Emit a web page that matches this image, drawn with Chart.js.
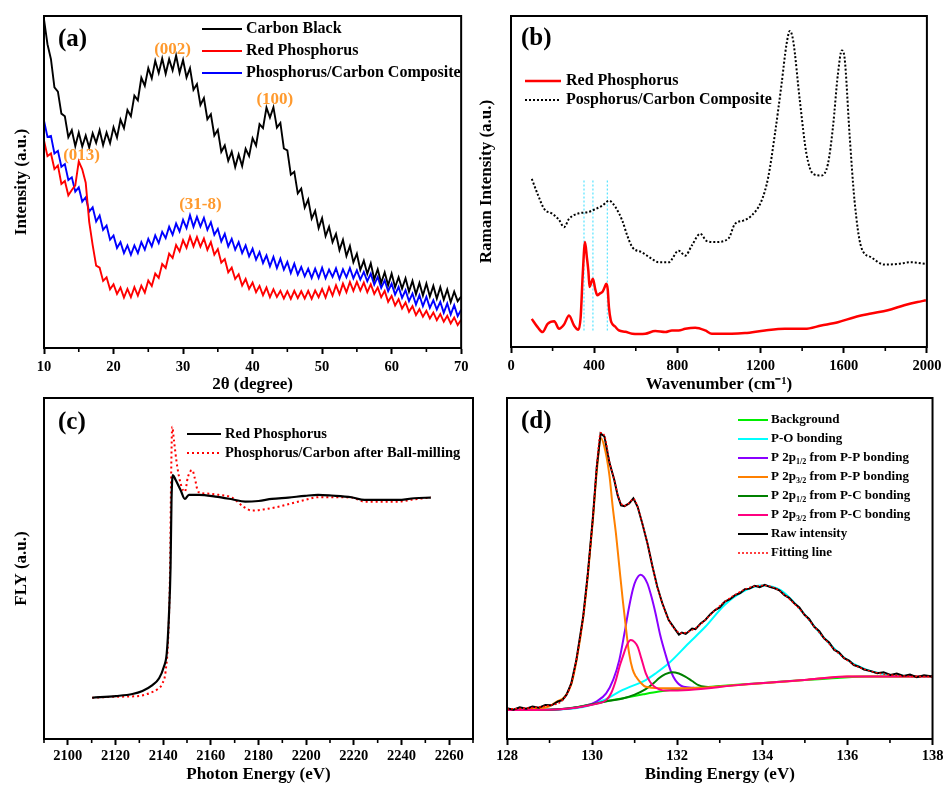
<!DOCTYPE html>
<html>
<head>
<meta charset="utf-8">
<script src="https://cdn.jsdelivr.net/npm/chart.js@4.4.1/dist/chart.umd.min.js"></script>
<style>
  body { margin: 0; background: #fff; }
  #page { position: relative; width: 946px; height: 785px; overflow: hidden; }
  canvas { position: absolute; }
</style>
</head>
<body>
<div id="page">
  <canvas id="graphA" width="473" height="397" style="left:0;top:0"></canvas>
  <canvas id="graphB" width="473" height="397" style="left:473px;top:0"></canvas>
  <canvas id="graphC" width="476" height="388" style="left:0;top:397px"></canvas>
  <canvas id="graphD" width="473" height="388" style="left:473px;top:397px"></canvas>
</div>
<script>
// ---- (a) XRD ----
const angle = [
  10, 10.5, 11, 11.5, 12, 12.5, 13, 13.5, 14, 14.5,
  15, 15.5, 16, 16.5, 17, 17.5, 18, 18.5, 19, 19.5,
  20, 20.5, 21, 21.5, 22, 22.5, 23, 23.5, 24, 24.5,
  25, 25.5, 26, 26.5, 27, 27.5, 28, 28.5, 29, 29.5,
  30, 30.5, 31, 31.5, 32, 32.5, 33, 33.5, 34, 34.5,
  35, 35.5, 36, 36.5, 37, 37.5, 38, 38.5, 39, 39.5,
  40, 40.5, 41, 41.5, 42, 42.5, 43, 43.5, 44, 44.5,
  45, 45.5, 46, 46.5, 47, 47.5, 48, 48.5, 49, 49.5,
  50, 50.5, 51, 51.5, 52, 52.5, 53, 53.5, 54, 54.5,
  55, 55.5, 56, 56.5, 57, 57.5, 58, 58.5, 59, 59.5,
  60, 60.5, 61, 61.5, 62, 62.5, 63, 63.5, 64, 64.5,
  65, 65.5, 66, 66.5, 67, 67.5, 68, 68.5, 69, 69.5,
  70
];
const carbonBlack = [
  99, 91.5, 87, 78.5, 77.2, 70.6, 69.8, 63.5, 65.6, 60.8,
  64.9, 60.7, 64, 60.4, 64.7, 61.8, 65.6, 61.1, 64.9, 61.7,
  66.5, 63.4, 68.8, 66.2, 71.7, 69.8, 76, 74.6, 81.4, 79,
  84.3, 81.2, 86.5, 82.8, 87.2, 82.6, 87, 83.6, 88.1, 82.9,
  86.8, 81.5, 84.3, 77.8, 79.5, 73.2, 75.3, 68.9, 70.4, 64,
  65.7, 59.1, 61, 56.4, 59.1, 54.5, 58.3, 54.8, 60, 57.8,
  63.2, 61, 67.4, 66.2, 72.4, 69.4, 72.5, 66.4, 67.8, 60.1,
  59.5, 52.2, 53.1, 46.6, 48, 42.3, 44.7, 39, 41.3, 36.1,
  39.1, 33.7, 36.5, 31.9, 34.4, 29.5, 32.6, 27.7, 30.7, 25.8,
  28.4, 23.5, 26.3, 22.4, 25.5, 20.7, 23.7, 19.6, 22.8, 18.9,
  22.4, 18.3, 21.3, 17.9, 21, 17, 20.2, 16.2, 19.6, 15.8,
  19.4, 15.5, 18.7, 14.9, 18.3, 14.5, 17.6, 13.8, 17, 14.1,
  15.5
];
const redPhosphorus = [
  62.5, 57.8, 58.6, 53.9, 55, 49.4, 50.3, 46, 47.6, 49,
  56.2, 53.8, 49.8, 38, 31, 24.8, 24.2, 20.2, 21.3, 17.7,
  19.2, 16.3, 18.2, 15.2, 17.8, 15.3, 18.3, 15.8, 18.8, 16.7,
  20.3, 18.7, 22.4, 21.1, 25.3, 24.1, 28.4, 27.1, 31, 29.1,
  32.5, 30.2, 33.6, 30.6, 33.4, 30.5, 33, 29.6, 31.9, 28.1,
  29.8, 25.7, 26.8, 22.8, 24.2, 20.8, 22.2, 18.8, 20.8, 17.8,
  19.7, 16.8, 18.7, 15.9, 18.2, 15.3, 17.7, 15.4, 17.2, 14.9,
  17.1, 14.8, 17.2, 15, 17.1, 14.9, 17.2, 14.8, 17.3, 15.3,
  17.8, 15.2, 18.3, 15.8, 18.9, 16.2, 19.4, 16.8, 19.9, 17.2,
  19.9, 17.3, 19.7, 16.8, 19.2, 16.3, 18.2, 15.3, 17.2, 13.9,
  15.7, 12.8, 14.7, 11.9, 13.7, 10.9, 12.6, 9.9, 11.7, 9.4,
  11.2, 8.9, 10.7, 8.4, 10.2, 7.9, 9.7, 7.4, 9.2, 6.9,
  8.5
];
const composite = [
  68.5, 63.6, 63.9, 58.6, 59.4, 54.6, 55.4, 50.6, 51.4, 47.1,
  48.4, 44.1, 45.4, 41.1, 42.4, 38.1, 39.9, 35.6, 36.9, 32.6,
  33.9, 30.1, 31.9, 28.6, 30.9, 28.1, 30.9, 28.6, 31.9, 29.6,
  32.9, 30.6, 33.9, 31.6, 35, 33.1, 36.5, 34.1, 37.5, 35.1,
  38.6, 36.1, 40, 36.5, 39.5, 36.6, 39.2, 35.6, 37.9, 34.1,
  35.9, 32.1, 34.4, 30.6, 32.9, 29.6, 31.9, 28.6, 30.9, 27.6,
  29.9, 26.6, 28.9, 25.6, 27.9, 24.6, 27.4, 24.1, 26.9, 23.6,
  25.9, 22.6, 25.4, 22.1, 24.4, 21.6, 23.9, 21.1, 23.9, 21.1,
  24.2, 21, 23.6, 21.4, 24, 20.8, 23.7, 21.3, 24.1, 21,
  23.4, 20.6, 22.9, 20.1, 22.4, 19.1, 21.4, 18.1, 20.4, 17.1,
  19.4, 16.1, 18.4, 15.1, 17.4, 14.1, 16.4, 13.1, 15.9, 12.6,
  15.4, 12.1, 14.4, 11.6, 13.9, 10.6, 13.4, 10.1, 12.9, 9.6,
  11.5
];
const aTicks = [10, 20, 30, 40, 50, 60, 70];
const peakNames = ['(002)', '(100)', '(013)', '(31-8)'];
const peakAngle = [28.5, 43.2, 15.4, 32.5];
const peakLevel = [90, 74.7, 57.8, 43.1];

// ---- (b) Raman ----
const ramanRedX = [100, 128, 152, 176, 208, 231, 255, 279, 303, 324, 335, 345, 356, 365, 372, 378, 386, 394, 405, 415,
  428, 439, 450, 458, 465, 471, 480, 487, 500, 519, 550, 583, 615, 646, 694, 742, 774, 806, 838, 886,
  934, 966, 1000, 1061, 1125, 1221, 1317, 1413, 1492, 1572, 1652, 1732, 1812, 1891, 1955, 1995];
const ramanRedY = [8.5, 6, 4.5, 7, 7.8, 5.5, 6.8, 9.5, 6.5, 5.2, 9, 22, 31.7, 27, 23, 18.1, 19.5, 20.6, 17.5, 15.6,
  16.2, 16.6, 18, 19.1, 17.5, 12, 8, 7, 6.2, 5, 4.6, 4, 3.9, 4, 4.8, 4.5, 5, 5, 5.5, 5.8,
  5, 4, 4, 4, 4.2, 5, 5.5, 5.5, 6.5, 7.5, 9, 10.1, 11.1, 12.6, 13.6, 14.1];
const ramanMixX = [100, 128, 160, 200, 230, 255, 279, 327, 367, 407, 439, 471, 503, 535, 560, 583, 630, 678, 710, 758,
  806, 838, 870, 910, 942, 982, 1045, 1077, 1117, 1157, 1205, 1237, 1269, 1301, 1325, 1341, 1357, 1389, 1421, 1453,
  1492, 1524, 1548, 1572, 1591, 1604, 1628, 1652, 1684, 1732, 1796, 1860, 1923, 1995];
const ramanMixY = [50.8, 46.2, 41.7, 40.2, 38.5, 36.2, 38.7, 40.4, 40.7, 41.7, 42.7, 44.2, 42.2, 38.2, 33.5, 30.2, 28.6, 26.6, 25.6, 25.6,
  29.1, 27.6, 30.7, 34.2, 32, 31.7, 32.7, 37.2, 38.2, 39.7, 44.2, 51.3, 64.3, 79.4, 91.5, 95.5, 92.5, 74.4, 58.3, 52.3,
  51.8, 55.3, 66.3, 82.4, 89.6, 87.4, 64.3, 44.2, 30.2, 27.1, 24.9, 25.1, 25.6, 25.1];
const ramanMarks = [351, 394, 463];
const markSpan = [50.3, 4.5];
const bTicks = [0, 400, 800, 1200, 1600, 2000];

// ---- (c) XANES ----
const flyRedX = [2110.2, 2120.2, 2127.1, 2131.3, 2135.5, 2138.3, 2140.3, 2141.5, 2142.4, 2143.1, 2143.5, 2144.1, 2145.2, 2147.3, 2149.1, 2150.8,
  2155, 2161.9, 2168.9, 2174.4, 2180, 2185.6, 2192.5, 2199.5, 2205, 2210.6, 2219, 2224.5, 2231.5, 2238.4, 2245.4, 2252.3];
const flyRedY = [12.1, 12.6, 13.2, 14.1, 15.8, 17.8, 21.2, 25.1, 35.9, 50.5, 70.1, 77.4, 76, 73, 70.4, 71.6,
  71.6, 71.1, 70.3, 69.6, 69.8, 70.4, 70.8, 71.3, 71.6, 71.4, 70.9, 70.1, 70.1, 70.1, 70.6, 70.8];
const flyMixX = [2110.2, 2120.2, 2129.9, 2134.1, 2137.6, 2139.7, 2141, 2142.2, 2142.9, 2143.3, 2143.8, 2144.5, 2145.9, 2147.7, 2149.1, 2150.4, 2152.2, 2153.3,
  2154.7, 2157.7, 2163.3, 2168.9, 2173.7, 2177.2, 2182.8, 2188.3, 2193.9, 2199.5, 2205, 2210.6, 2219, 2224.5, 2231.5, 2238.4, 2245.4, 2252.3];
const flyMixY = [12.1, 12.4, 12.6, 13.4, 14.6, 16.3, 19.7, 31, 50.5, 75, 91.6, 87.7, 79.9, 74, 72.5, 76.9, 78.9, 76.4,
  72.5, 72, 71.6, 70.8, 68.1, 67, 67.4, 68.1, 69.1, 70.1, 70.9, 70.9, 70.8, 69.6, 69.6, 69.6, 70.3, 70.8];
const cTicks = [2100, 2120, 2140, 2160, 2180, 2200, 2220, 2240, 2260];

// ---- (d) XPS ----
const rawX = [128, 128.15, 128.3, 128.45, 128.6, 128.75, 128.9, 129.05, 129.2, 129.3, 129.4, 129.51, 129.63, 129.71, 129.79, 129.9, 130.02, 130.11, 130.2, 130.29,
  130.41, 130.52, 130.6, 130.68, 130.76, 130.87, 130.97, 131.07, 131.18, 131.3, 131.42, 131.53, 131.65, 131.8, 131.96, 132.04, 132.11, 132.2, 132.27, 132.35,
  132.43, 132.55, 132.66, 132.78, 132.89, 133, 133.12, 133.24, 133.36, 133.48, 133.59, 133.7, 133.82, 133.94, 134.06, 134.17, 134.29, 134.4, 134.52, 134.63,
  134.75, 134.87, 134.99, 135.1, 135.22, 135.34, 135.45, 135.57, 135.69, 135.8, 135.92, 136.04, 136.15, 136.27, 136.39, 136.55, 136.7, 136.85, 137.01, 137.16,
  137.32, 137.47, 137.63, 137.8, 138];
const rawY = [9, 8.6, 9.3, 8.9, 9.5, 9.2, 10, 9.9, 11, 11.4, 13, 16.3, 23.2, 29.5, 35.9, 48.6, 65.2, 79.9, 89.6, 88.7,
  80.9, 76, 71.5, 68.5, 68.3, 69.1, 70.6, 68.1, 63.2, 57.4, 50.5, 44.7, 39.8, 34.9, 32, 30.6, 31.2, 30.8, 31.5, 32.4,
  32.2, 33.9, 34.9, 36.6, 37.8, 38.6, 40.3, 41, 42.2, 42.8, 43.9, 44.1, 44.9, 44.5, 45.2, 44.6, 44.2, 43.6, 42.2, 41.4,
  39.8, 38.6, 36.4, 35.2, 32.9, 31.6, 29.5, 28.3, 26.1, 25.4, 23.7, 23, 21.7, 21.2, 20.4, 19.9, 19.3, 19.6, 18.8, 19.2,
  18.5, 18.9, 18.1, 18.7, 18.3];
const fitX = [128, 128.5, 129, 129.3, 129.51, 129.63, 129.79, 129.9, 130.02, 130.11, 130.2, 130.29, 130.41, 130.52, 130.64, 130.76, 130.87, 130.97, 131.07, 131.18,
  131.3, 131.42, 131.53, 131.65, 131.8, 131.96, 132.11, 132.27, 132.43, 132.66, 132.89, 133.12, 133.36, 133.59, 133.82, 134.06, 134.29, 134.52, 134.75, 134.99,
  135.22, 135.45, 135.69, 135.92, 136.15, 136.39, 136.7, 137.01, 137.32, 137.63, 138];
const fitY = [8.8, 9.1, 9.9, 11.3, 16.3, 23.2, 35.9, 48.6, 65.2, 80.2, 89.8, 89, 81.2, 76, 70.1, 68.4, 69.2, 70.4, 68.1, 63.2,
  57.4, 50.5, 44.7, 39.8, 34.9, 32, 31, 31.5, 32.5, 34.9, 37.8, 40.3, 42.3, 43.9, 44.8, 45, 44.3, 42.3, 39.7, 36.5,
  33, 29.6, 26.3, 23.8, 21.8, 20.5, 19.4, 18.8, 18.5, 18.3, 18.3];
const bgX = [128, 129, 129.5, 129.86, 130.3, 130.7, 131.2, 131.57, 132.1, 132.66, 133.4, 134.2, 135, 135.76, 136.5, 137.2, 138];
const bgY = [8.5, 8.6, 9, 9.9, 11, 11.9, 13.1, 13.9, 14.7, 15.2, 15.9, 16.6, 17.3, 17.9, 18.3, 18.3, 18.3];
const poX = [128, 129, 129.5, 129.86, 130.3, 130.72, 131.26, 131.5, 131.8, 132.27, 132.66, 133.12, 133.59, 133.98, 134.44, 134.75, 134.99, 135.45, 135.92, 136.39, 136.93, 137.5, 138];
const poY = [8.5, 8.6, 8.9, 9.6, 11.5, 14.4, 17.3, 19.3, 22.2, 28.1, 32.9, 39.4, 43.5, 45, 43.6, 40, 36.6, 29.7, 23.9, 20.6, 18.9, 18.4, 18.3];
const pp12X = [128, 129, 129.5, 129.86, 130.1, 130.33, 130.5, 130.64, 130.76, 130.87, 130.96, 131.03, 131.14, 131.22, 131.3, 131.4, 131.49, 131.6, 131.73, 131.85, 131.96, 132.15, 132.4];
const pp12Y = [8.5, 8.6, 9, 9.8, 11, 13.4, 17.5, 23.2, 31, 38.8, 44, 46.6, 48.2, 47.5, 45.6, 41.5, 36.9, 30.5, 24.6, 19.9, 17.2, 15.3, 15];
const pp32X = [128, 128.6, 129, 129.16, 129.36, 129.51, 129.63, 129.79, 129.9, 130.02, 130.11, 130.21, 130.31, 130.41, 130.48, 130.56, 130.64, 130.72, 130.8, 130.87,
  130.95, 131.03, 131.15, 131.26, 131.57, 132.27, 133.43, 134.99, 136, 138];
const pp32Y = [8.5, 8.9, 9.6, 10.9, 12.4, 16, 22.8, 35.5, 48, 64.5, 78.5, 88.2, 84.5, 77, 68.5, 60.3, 50.5, 40.8, 32, 25.1,
  20.5, 18.3, 16.4, 15.3, 14.9, 14.9, 15.8, 17.3, 18.3, 18.3];
const pc12X = [128, 129, 129.5, 129.94, 130.4, 130.72, 131, 131.26, 131.45, 131.57, 131.72, 131.88, 132.04, 132.19, 132.35, 132.5, 132.66, 132.81, 133];
const pc12Y = [8.5, 8.6, 9.1, 10, 11.2, 11.9, 13, 14.6, 16.4, 17.8, 19, 19.6, 19.2, 18.3, 17, 15.8, 15.3, 15.2, 15.4];
const pc32X = [128, 129, 129.5, 129.86, 130.1, 130.33, 130.45, 130.56, 130.65, 130.72, 130.82, 130.91, 131, 131.07, 131.16, 131.26, 131.36, 131.46, 131.73, 132.27,
  133.43, 134.99, 136, 138];
const pc32Y = [8.5, 8.6, 9, 9.7, 10.3, 11.4, 13.5, 17.3, 21.5, 24.1, 27.6, 29, 28.4, 27.1, 23.5, 19.3, 16.8, 15.4, 14.2, 14.4,
  15.8, 17.3, 18.3, 18.3];
const dTicks = [128, 130, 132, 134, 136, 138];

// ---- helpers ----
const serif = '"Liberation Serif", "Times New Roman", serif';

function points(xs, ys) {
  return xs.map((x, i) => ({ x: x, y: ys[i] }));
}

function series(label, xs, ys, color, width, dash, extra) {
  return Object.assign({
    label: label,
    data: points(xs, ys),
    borderColor: color,
    backgroundColor: color,
    borderWidth: width,
    borderDash: dash || [],
    pointRadius: 0,
    fill: false,
    tension: 0
  }, extra || {});
}

// draws text, with _{..} parts as subscripts
function richText(ctx, text, x, y, size) {
  text.split(/_\{([^}]*)\}/).forEach((part, i) => {
    const sub = i % 2 === 1;
    ctx.font = 'bold ' + (sub ? size * 0.62 : size) + 'px ' + serif;
    ctx.fillStyle = '#000';
    ctx.fillText(part, x, sub ? y + size * 0.28 : y);
    x += ctx.measureText(part).width;
  });
}

// frame, minor ticks, panel letter, key and peak notes
function decor(cfg) {
  return {
    id: 'decor',
    afterDatasetsDraw(chart) {
      const ctx = chart.ctx;
      const a = chart.chartArea;
      const xs = chart.scales.x;
      ctx.save();
      ctx.strokeStyle = '#000';
      ctx.lineWidth = 2;
      ctx.strokeRect(a.left, a.top, a.right - a.left, a.bottom - a.top);

      ctx.lineWidth = 1.6;
      for (let v = xs.min; v <= xs.max + 1e-6; v += cfg.minor) {
        if (cfg.xTicks.indexOf(v) >= 0) continue;
        const px = xs.getPixelForValue(v);
        ctx.beginPath();
        ctx.moveTo(px, a.bottom);
        ctx.lineTo(px, a.bottom + 4);
        ctx.stroke();
      }

      ctx.textBaseline = 'middle';
      ctx.textAlign = 'left';
      ctx.fillStyle = '#000';
      ctx.font = 'bold 25px ' + serif;
      ctx.fillText(cfg.tag, a.left + cfg.tagX, a.top + cfg.tagY);

      const k = cfg.key;
      chart.data.datasets.filter(d => d.label).forEach((d, i) => {
        const y = a.top + k.y + i * k.row;
        const x = a.left + k.x;
        ctx.strokeStyle = d.borderColor;
        ctx.lineWidth = d.keyWidth || d.borderWidth;
        ctx.setLineDash(d.borderDash || []);
        ctx.beginPath();
        ctx.moveTo(x, y);
        ctx.lineTo(x + k.len, y);
        ctx.stroke();
        ctx.setLineDash([]);
        richText(ctx, d.label, x + k.len + k.gap, y, k.size);
      });

      if (cfg.notes) {
        ctx.textAlign = 'center';
        ctx.fillStyle = '#ff9a2e';
        ctx.font = 'bold 17px ' + serif;
        cfg.notes.text.forEach((t, i) => {
          ctx.fillText(t, xs.getPixelForValue(cfg.notes.x[i]), chart.scales.y.getPixelForValue(cfg.notes.y[i]));
        });
      }
      ctx.restore();
    }
  };
}

function build(id, cfg, datasets) {
  return new Chart(document.getElementById(id), {
    type: 'line',
    data: { datasets: datasets },
    options: {
      responsive: false,
      animation: false,
      devicePixelRatio: 1,
      layout: { padding: cfg.pad },
      plugins: { legend: { display: false }, tooltip: { enabled: false } },
      scales: {
        x: {
          type: 'linear',
          min: cfg.xMin,
          max: cfg.xMax,
          afterBuildTicks: s => { s.ticks = cfg.xTicks.map(v => ({ value: v })); },
          afterFit: s => { s.height = cfg.xHeight; },
          ticks: {
            callback: v => String(v),
            color: '#000',
            autoSkip: false,
            maxRotation: 0,
            padding: cfg.tickPad,
            font: { family: serif, weight: 'bold', size: 14.5 }
          },
          grid: { drawOnChartArea: false, tickLength: 6, tickWidth: 2, tickColor: '#000' },
          border: { display: true, color: '#000', width: 2 },
          title: {
            display: true,
            text: cfg.xTitle,
            color: '#000',
            font: { family: serif, weight: 'bold', size: 17 },
            padding: { top: 0, bottom: cfg.xTitlePad }
          }
        },
        y: {
          min: 0,
          max: 100,
          afterFit: s => { s.width = cfg.yWidth; },
          ticks: { display: false },
          grid: { display: false },
          border: { display: false },
          title: {
            display: !!cfg.yTitle,
            text: cfg.yTitle || '',
            color: '#000',
            font: { family: serif, weight: 'bold', size: 17 },
            padding: { top: cfg.yTitlePad || 0, bottom: 0 }
          }
        }
      }
    },
    plugins: [decor(cfg)]
  });
}

const smooth = { cubicInterpolationMode: 'monotone' };

// (a)
build('graphA', {
  xMin: 10, xMax: 70, xTicks: aTicks, minor: 5,
  pad: { left: 0, top: 16, right: 8, bottom: 0 },
  yWidth: 44, xHeight: 49, tickPad: 4.6, xTitlePad: 1.8, yTitlePad: 11,
  xTitle: '2θ (degree)', yTitle: 'Intensity (a.u.)',
  tag: '(a)', tagX: 14, tagY: 24,
  key: { x: 158, y: 13, row: 22, len: 40, gap: 4, size: 16 },
  notes: { text: peakNames, x: peakAngle, y: peakLevel }
}, [
  series('Carbon Black', angle, carbonBlack, '#000000', 1.9, null, { keyWidth: 2 }),
  series('Red Phosphorus', angle, redPhosphorus, '#ff0000', 1.9, null, { keyWidth: 2 }),
  series('Phosphorus/Carbon Composite', angle, composite, '#0000ff', 1.9, null, { keyWidth: 2 })
]);

// (b)
const markSets = ramanMarks.map(w => series(null, [w, w], markSpan, '#33ddff', 1, [2, 2]));
build('graphB', {
  xMin: 0, xMax: 2000, xTicks: bTicks, minor: 200,
  pad: { left: 0, top: 16, right: 16, bottom: 0 },
  yWidth: 38, xHeight: 50, tickPad: 4.6, xTitlePad: 1.8, yTitlePad: 3.8,
  xTitle: 'Wavenumber (cm⁻¹)', yTitle: 'Raman Intensity (a.u.)',
  tag: '(b)', tagX: 10, tagY: 23,
  key: { x: 14, y: 65, row: 19, len: 36, gap: 5, size: 16 }
}, [
  series('Red Phosphorus', ramanRedX, ramanRedY, '#ff0000', 2.5, null, smooth),
  series('Posphorus/Carbon Composite', ramanMixX, ramanMixY, '#000000', 2, [2, 2], smooth)
].concat(markSets));

// (c)
build('graphC', {
  xMin: 2090, xMax: 2270, xTicks: cTicks, minor: 10,
  pad: { left: 0, top: 1, right: 3, bottom: 0 },
  yWidth: 44, xHeight: 46, tickPad: 2.6, xTitlePad: 0, yTitlePad: 11,
  xTitle: 'Photon Energy (eV)', yTitle: 'FLY (a.u.)',
  tag: '(c)', tagX: 14, tagY: 25,
  key: { x: 143, y: 36, row: 19, len: 34, gap: 4, size: 14.5 }
}, [
  series('Red Phosphorus', flyRedX, flyRedY, '#000000', 2.2, null, smooth),
  series('Phosphorus/Carbon after Ball-milling', flyMixX, flyMixY, '#ff0000', 2, [2, 3], smooth)
]);

// (d)
build('graphD', {
  xMin: 128, xMax: 138, xTicks: dTicks, minor: 1,
  pad: { left: 0, top: 1, right: 10, bottom: 0 },
  yWidth: 34, xHeight: 46, tickPad: 2.6, xTitlePad: 0,
  xTitle: 'Binding Energy (eV)',
  tag: '(d)', tagX: 14, tagY: 24,
  key: { x: 231, y: 22, row: 19, len: 30, gap: 3, size: 13 }
}, [
  series('Background', bgX, bgY, '#00ee00', 2, null, Object.assign({ order: 7 }, smooth)),
  series('P-O bonding', poX, poY, '#00ffff', 2, null, Object.assign({ order: 6 }, smooth)),
  series('P 2p_{1/2} from P-P bonding', pp12X, pp12Y, '#8a00ff', 2, null, Object.assign({ order: 5 }, smooth)),
  series('P 2p_{3/2} from P-P bonding', pp32X, pp32Y, '#ff8000', 2, null, Object.assign({ order: 3 }, smooth)),
  series('P 2p_{1/2} from P-C bonding', pc12X, pc12Y, '#008000', 2, null, Object.assign({ order: 4 }, smooth)),
  series('P 2p_{3/2} from P-C bonding', pc32X, pc32Y, '#ff0080', 2, null, Object.assign({ order: 2 }, smooth)),
  series('Raw intensity', rawX, rawY, '#000000', 2, null, { order: 1 }),
  series('Fitting line', fitX, fitY, '#ff0000', 1.5, [2, 2], Object.assign({ order: 0 }, smooth))
]);
</script>
</body>
</html>
